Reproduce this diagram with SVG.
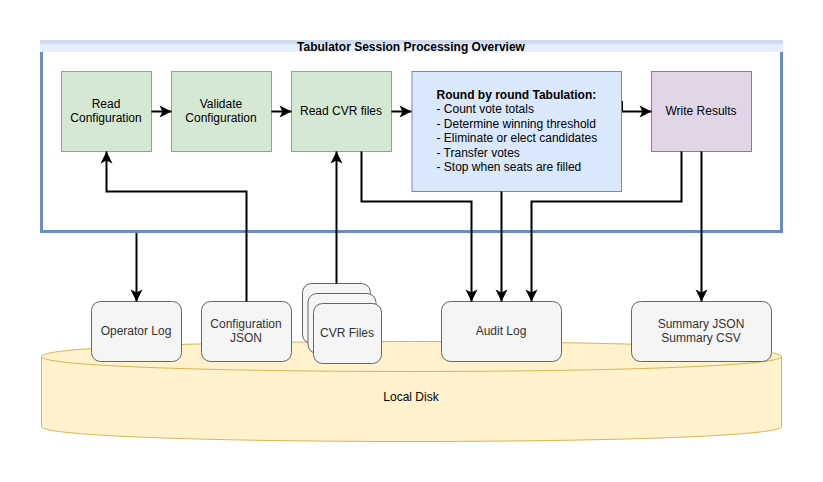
<svg xmlns="http://www.w3.org/2000/svg" width="823" height="482" viewBox="0 0 823 482">
<style>
text{font-family:"Liberation Sans",Arial,Helvetica,sans-serif;font-size:12px;fill:#000;text-anchor:middle}
.l{text-anchor:start}
.b{font-weight:bold}
.g{fill:#d5e8d4;stroke:#82b366}
.p{fill:#e1d5e7;stroke:#9673a6}
.u{fill:#dae8fc;stroke:#6c8ebf}
.f{fill:#f5f5f5;stroke:#666}
.t{fill:#333}
.c{fill:none;stroke:#000;stroke-width:2}
</style>
<defs>
<linearGradient id="bar" x1="0" y1="0" x2="0" y2="1"><stop offset="0" stop-color="#d3dbe8"/><stop offset="0.2" stop-color="#cddaee"/><stop offset="0.42" stop-color="#e3edfc"/><stop offset="1" stop-color="#e6f0fe"/></linearGradient>
<marker id="a" markerUnits="userSpaceOnUse" markerWidth="14" markerHeight="14" refX="12" refY="6" orient="auto" overflow="visible"><path d="M0 0L12 6L0 12L3 6Z" fill="#000"/></marker>
</defs>
<rect width="823" height="482" fill="#fff"/>
<g id="disk">
<path d="M41.500 356.500C41.500 336.500 781.500 336.500 781.500 356.500L781.500 426.500C781.500 446.500 41.500 446.500 41.500 426.500Z" fill="#fff2cc" stroke="#d6b656"/>
<path d="M41.500 356.500C41.500 376.500 781.500 376.500 781.500 356.500" fill="none" stroke="#d6b656"/>
<text x="411" y="401">Local Disk</text>
</g>
<g id="session">
<rect x="41.500" y="41.500" width="740" height="190" fill="#fff" stroke="#6c8ebf" stroke-width="3"/>
<rect x="40" y="40" width="743" height="12" fill="url(#bar)"/>
<text class="b" x="411" y="51">Tabulator Session Processing Overview</text>
</g>
<g id="read-config"><rect class="g" x="61.500" y="71.500" width="90" height="80"/><text x="106" y="108">Read</text><text x="106" y="122">Configuration</text></g>
<g id="validate-config"><rect class="g" x="171.500" y="71.500" width="100" height="80"/><text x="221" y="108">Validate</text><text x="221" y="122">Configuration</text></g>
<g id="read-cvr"><rect class="g" x="291.500" y="71.500" width="100" height="80"/><text x="341" y="115">Read CVR files</text></g>
<g id="tabulation"><rect class="u" x="412" y="71.500" width="209.500" height="120"/>
<text class="l b" x="436.500" y="99">Round by round Tabulation:</text>
<text class="l" x="436.500" y="113">- Count vote totals</text>
<text class="l" x="436.500" y="128">- Determine winning threshold</text>
<text class="l" x="436.500" y="142">- Eliminate or elect candidates</text>
<text class="l" x="436.500" y="157">- Transfer votes</text>
<text class="l" x="436.500" y="171">- Stop when seats are filled</text></g>
<g id="write-results"><rect class="p" x="651.500" y="71.500" width="100" height="80"/><text x="701" y="115">Write Results</text></g>
<g id="operator-log"><rect class="f" x="91.500" y="301.500" width="90" height="60" rx="9"/><text class="t" x="136" y="335">Operator Log</text></g>
<g id="config-json"><rect class="f" x="201.500" y="301.500" width="90" height="60" rx="9"/><text class="t" x="246" y="328">Configuration</text><text class="t" x="246" y="342">JSON</text></g>
<g id="cvr-files">
<rect class="f" x="302.500" y="283.500" width="68" height="60" rx="9"/>
<rect class="f" x="308" y="293.500" width="68" height="60" rx="9"/>
<rect class="f" x="313.500" y="303.500" width="68" height="60" rx="9"/>
<text class="t" x="347" y="337">CVR Files</text></g>
<g id="audit-log"><rect class="f" x="441.500" y="301.500" width="120" height="60" rx="9"/><text class="t" x="501" y="335">Audit Log</text></g>
<g id="summary"><rect class="f" x="631.500" y="301.500" width="140" height="60" rx="9"/><text class="t" x="701" y="328">Summary JSON</text><text class="t" x="701" y="342">Summary CSV</text></g>
<g id="connectors">
<path class="c" marker-end="url(#a)" d="M151.500 111.500H171.500"/>
<path class="c" marker-end="url(#a)" d="M271.500 111.500H291.500"/>
<path class="c" marker-end="url(#a)" d="M391.500 111.500H411.500"/>
<path class="c" marker-end="url(#a)" d="M622 111.500H651.500"/>
<path d="M622.400 101V111" fill="none" stroke="#000" stroke-width="1.200"/>
<path class="c" marker-end="url(#a)" d="M246.500 301.500V191.500H106.500V151.500"/>
<path class="c" marker-end="url(#a)" d="M336.500 283.500V151.500"/>
<path class="c" marker-end="url(#a)" d="M136.500 233V301.500"/>
<path class="c" marker-end="url(#a)" d="M361.500 151.500V201.500H471.500V301.500"/>
<path class="c" marker-end="url(#a)" d="M501.500 191.500V301.500"/>
<path class="c" marker-end="url(#a)" d="M681.500 151.500V201.500H531.500V301.500"/>
<path class="c" marker-end="url(#a)" d="M701.500 151.500V301.500"/>
</g>
</svg>
